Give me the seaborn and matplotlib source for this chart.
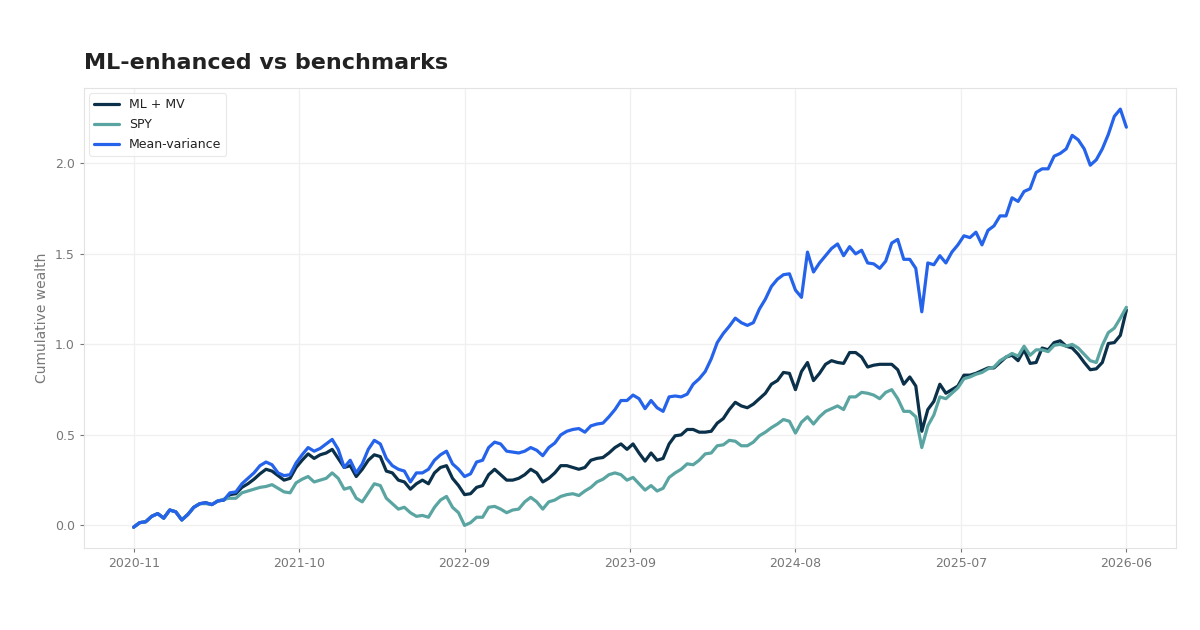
import matplotlib
matplotlib.use("Agg")
import matplotlib.pyplot as plt
import seaborn as sns
import pandas as pd
import numpy as np

# ------------------------------------------------------------
# Data (cumulative wealth)
# ------------------------------------------------------------
tick_labels = ["2020-11", "2021-10", "2022-09", "2023-09", "2024-08", "2025-07", "2026-06"]

ml_mv = [
    -0.01, 0.015, 0.02, 0.05, 0.065, 0.04, 0.085, 0.075, 0.03, 0.06,
    0.10, 0.12, 0.125, 0.115, 0.135, 0.14, 0.17, 0.175, 0.21, 0.23,
    0.255, 0.285, 0.31, 0.30, 0.275, 0.25, 0.26, 0.32, 0.36, 0.395,
    0.37, 0.39, 0.40, 0.42, 0.37, 0.32, 0.33, 0.27, 0.31, 0.36,
    0.39, 0.38, 0.30, 0.29, 0.25, 0.24, 0.20, 0.23, 0.25, 0.23,
    0.29, 0.32, 0.33, 0.26, 0.22, 0.17, 0.175, 0.21, 0.22, 0.28,
    0.31, 0.28, 0.25, 0.25, 0.26, 0.28, 0.31, 0.29, 0.24, 0.26,
    0.29, 0.33, 0.33, 0.32, 0.31, 0.32, 0.36, 0.37, 0.375, 0.40,
    0.43, 0.45, 0.42, 0.45, 0.40, 0.355, 0.40, 0.36, 0.37, 0.45,
    0.495, 0.50, 0.53, 0.53, 0.515, 0.515, 0.52, 0.565, 0.59, 0.64,
    0.68, 0.66, 0.65, 0.67, 0.70, 0.73, 0.78, 0.80, 0.845, 0.84,
    0.75, 0.85, 0.90, 0.80, 0.84, 0.89, 0.91, 0.90, 0.895, 0.955,
    0.955, 0.93, 0.875, 0.885, 0.89, 0.89, 0.89, 0.86, 0.78, 0.82,
    0.77, 0.52, 0.64, 0.685, 0.78, 0.73, 0.75, 0.77, 0.83, 0.83,
    0.84, 0.855, 0.87, 0.87, 0.90, 0.93, 0.94, 0.91, 0.97, 0.895,
    0.90, 0.98, 0.97, 1.01, 1.02, 0.99, 0.98, 0.945, 0.90, 0.86,
    0.865, 0.90, 1.005, 1.01, 1.05, 1.19,
]

spy = [
    -0.01, 0.015, 0.02, 0.05, 0.065, 0.04, 0.085, 0.075, 0.03, 0.06,
    0.10, 0.12, 0.12, 0.115, 0.135, 0.145, 0.15, 0.15, 0.18, 0.19,
    0.20, 0.21, 0.215, 0.225, 0.205, 0.185, 0.18, 0.235, 0.255, 0.27,
    0.24, 0.25, 0.26, 0.29, 0.26, 0.20, 0.21, 0.15, 0.13, 0.18,
    0.23, 0.22, 0.15, 0.12, 0.09, 0.10, 0.07, 0.05, 0.055, 0.045,
    0.10, 0.14, 0.16, 0.10, 0.07, 0.00, 0.015, 0.045, 0.045, 0.10,
    0.105, 0.09, 0.07, 0.085, 0.09, 0.13, 0.155, 0.13, 0.09, 0.13,
    0.14, 0.16, 0.17, 0.175, 0.165, 0.19, 0.21, 0.24, 0.255, 0.28,
    0.29, 0.28, 0.25, 0.265, 0.23, 0.195, 0.22, 0.19, 0.205, 0.265,
    0.29, 0.31, 0.34, 0.335, 0.36, 0.395, 0.40, 0.44, 0.445, 0.47,
    0.465, 0.44, 0.44, 0.46, 0.495, 0.515, 0.54, 0.56, 0.585, 0.575,
    0.51, 0.57, 0.60, 0.56, 0.60, 0.63, 0.645, 0.66, 0.64, 0.71,
    0.71, 0.735, 0.73, 0.72, 0.70, 0.735, 0.75, 0.70, 0.63, 0.63,
    0.60, 0.43, 0.55, 0.61, 0.71, 0.70, 0.73, 0.76, 0.81, 0.82,
    0.835, 0.845, 0.865, 0.875, 0.91, 0.93, 0.95, 0.935, 0.99, 0.94,
    0.97, 0.97, 0.96, 0.995, 1.00, 0.99, 1.00, 0.98, 0.945, 0.91,
    0.90, 0.995, 1.065, 1.09, 1.145, 1.205,
]

mean_var = [
    -0.01, 0.015, 0.02, 0.05, 0.065, 0.04, 0.085, 0.075, 0.03, 0.06,
    0.10, 0.12, 0.125, 0.115, 0.135, 0.14, 0.18, 0.185, 0.23, 0.26,
    0.29, 0.33, 0.35, 0.335, 0.29, 0.275, 0.28, 0.345, 0.39, 0.43,
    0.41, 0.425, 0.45, 0.475, 0.42, 0.32, 0.36, 0.29, 0.34, 0.42,
    0.47, 0.45, 0.37, 0.33, 0.31, 0.30, 0.24, 0.29, 0.29, 0.31,
    0.36, 0.39, 0.41, 0.34, 0.31, 0.27, 0.285, 0.35, 0.36, 0.43,
    0.46, 0.45, 0.41, 0.405, 0.40, 0.41, 0.43, 0.415, 0.385, 0.43,
    0.455, 0.50, 0.52, 0.53, 0.535, 0.515, 0.55, 0.56, 0.565, 0.60,
    0.64, 0.69, 0.69, 0.72, 0.70, 0.645, 0.69, 0.65, 0.63, 0.71,
    0.715, 0.71, 0.725, 0.78, 0.81, 0.85, 0.92, 1.01, 1.06, 1.10,
    1.145, 1.12, 1.105, 1.12, 1.195, 1.25, 1.32, 1.36, 1.385, 1.39,
    1.30, 1.26, 1.51, 1.40, 1.45, 1.49, 1.53, 1.555, 1.49, 1.54,
    1.50, 1.52, 1.45, 1.445, 1.42, 1.46, 1.56, 1.58, 1.47, 1.47,
    1.42, 1.18, 1.45, 1.44, 1.49, 1.45, 1.51, 1.55, 1.60, 1.59,
    1.62, 1.55, 1.63, 1.655, 1.71, 1.71, 1.81, 1.79, 1.845, 1.86,
    1.95, 1.97, 1.97, 2.04, 2.055, 2.08, 2.155, 2.13, 2.08, 1.99,
    2.02, 2.08, 2.16, 2.26, 2.30, 2.20,
]

colors = {"ML + MV": "#0b3049", "SPY": "#5aa5a2", "Mean-variance": "#2563eb"}

df = pd.DataFrame({
    "step": np.arange(len(ml_mv)),
    "ML + MV": ml_mv,
    "SPY": spy,
    "Mean-variance": mean_var,
})
long_df = df.melt(id_vars="step", var_name="series", value_name="wealth")

# ------------------------------------------------------------
# Plot
# ------------------------------------------------------------
sns.set_theme(style="whitegrid")
sns.set_style({
    "axes.edgecolor": "#e3e3e3",
    "grid.color": "#f0f0f0",
    "xtick.bottom": True,
    "ytick.left": True,
})

fig, ax = plt.subplots(figsize=(12, 6.3), dpi=100)
fig.subplots_adjust(left=0.07, right=0.98, top=0.86, bottom=0.13)

sns.lineplot(data=long_df, x="step", y="wealth", hue="series",
             palette=colors, linewidth=2.3, ax=ax)

ax.set_xticks(np.linspace(0, len(ml_mv) - 1, len(tick_labels)))
ax.set_xticklabels(tick_labels)
ax.set_yticks([0.0, 0.5, 1.0, 1.5, 2.0])
ax.tick_params(axis="both", labelsize=9, colors="#777777", length=3, width=0.8)
for spine in ax.spines.values():
    spine.set_color("#e3e3e3")
    spine.set_linewidth(0.8)

ax.set_xlabel("")
ax.set_ylabel("Cumulative wealth", fontsize=10, color="#777777")
ax.set_title("ML-enhanced vs benchmarks", loc="left", fontsize=16,
             fontweight="bold", color="#222222", pad=14)

leg = ax.legend(loc="upper left", fontsize=9, frameon=True, borderpad=0.4,
                handlelength=2.0, labelspacing=0.55, borderaxespad=0.4)
leg.get_frame().set_edgecolor("#e3e3e3")
leg.get_frame().set_linewidth(0.8)
for t in leg.get_texts():
    t.set_color("#222222")

plt.savefig("out.png", dpi=100)
plt.close()
